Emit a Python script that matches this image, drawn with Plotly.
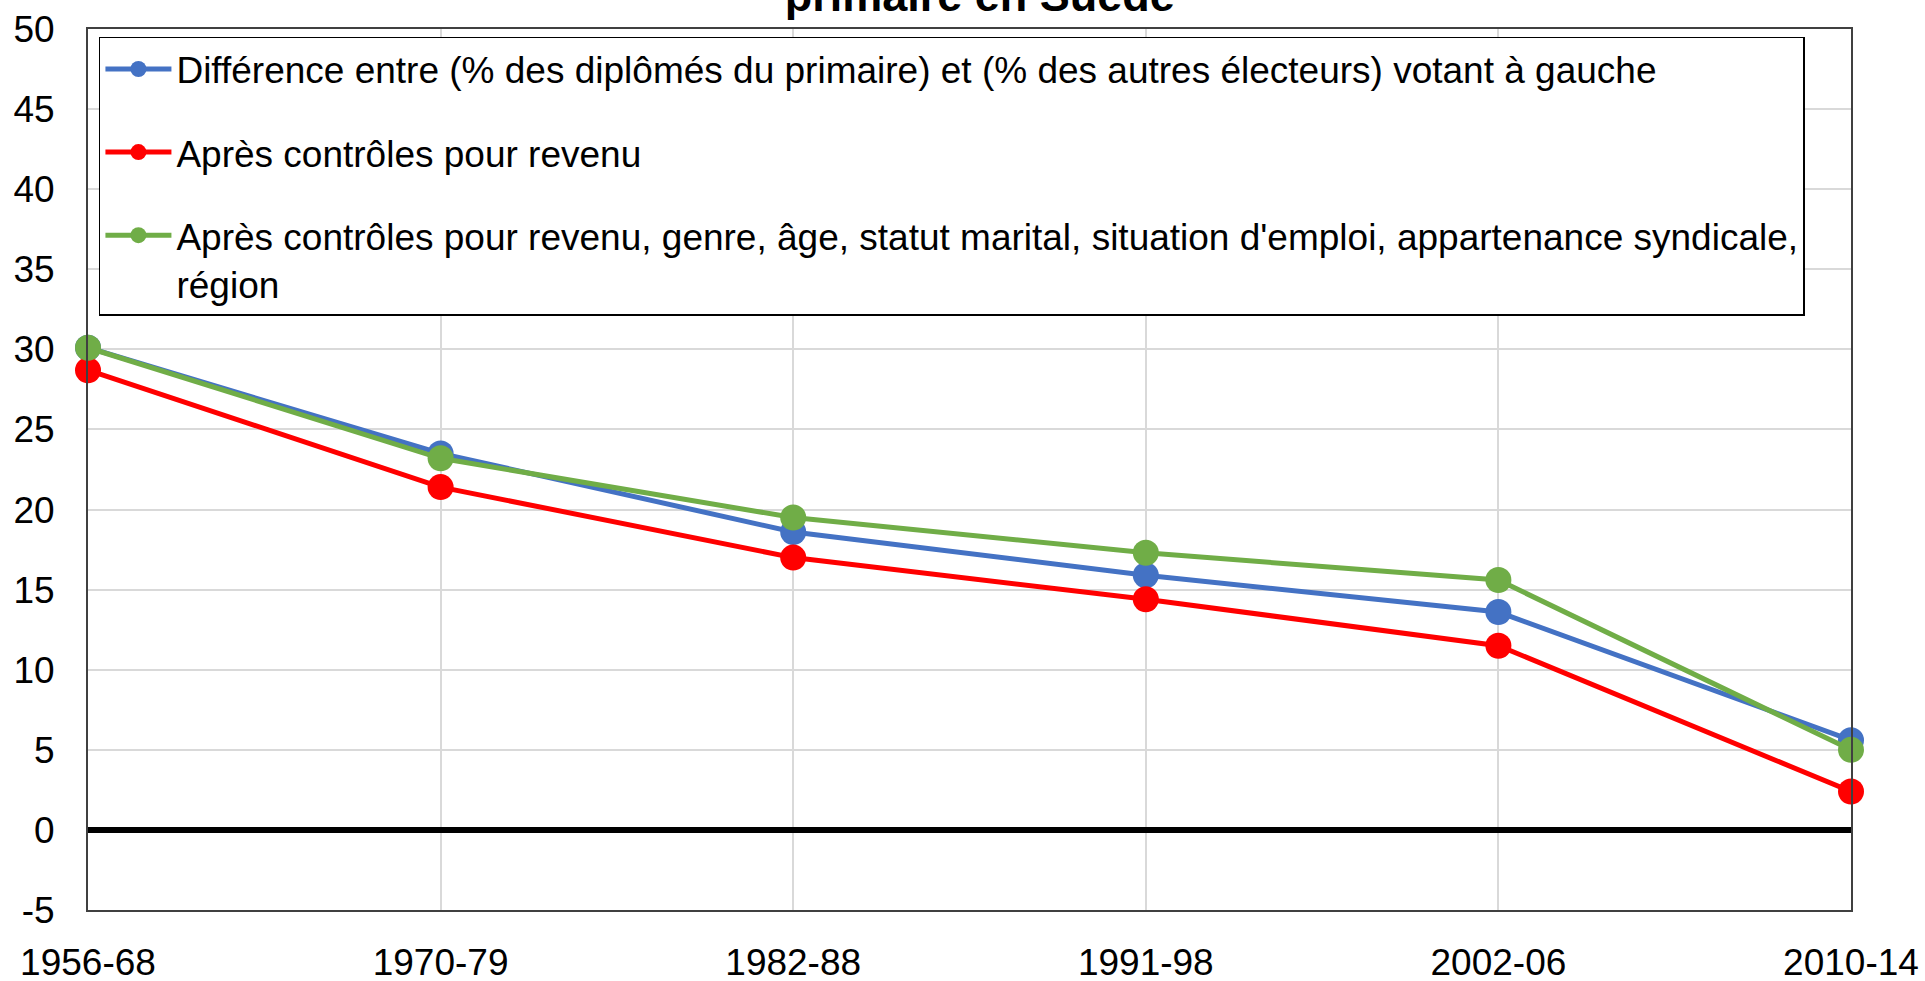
import plotly.graph_objects as go

periods = ["1956-68", "1970-79", "1982-88", "1991-98", "2002-06", "2010-14"]
diff_raw = [30.1, 23.5, 18.6, 15.9, 13.6, 5.6]
diff_income = [28.7, 21.4, 17.0, 14.4, 11.5, 2.4]
diff_all = [30.1, 23.2, 19.5, 17.3, 15.6, 5.0]

y_ticks = [-5, 0, 5, 10, 15, 20, 25, 30, 35, 40, 45, 50]
y_ticklabels = ["-5", "0", "5", "10", "15", "20", "25", "30", "35", "40", "45", "50"]

names = [
    "Différence entre (% des diplômés du primaire) et (% des autres électeurs) votant à gauche",
    "Après contrôles pour revenu",
    "Après contrôles pour revenu, genre, âge, statut marital, situation d'emploi, appartenance syndicale,<br>région",
]
colors = ["#4472C4", "#FF0000", "#70AD47"]
series = [diff_raw, diff_income, diff_all]

FONT = "Liberation Sans, Arial, sans-serif"

fig = go.Figure()
for i, (nm, col, vals) in enumerate(zip(names, colors, series)):
    fig.add_trace(go.Scatter(
        x=periods, y=vals, name=nm, mode="lines+markers",
        line=dict(color=col, width=5),
        marker=dict(color=col, size=26),
        cliponaxis=False, legendgroup=f"g{i}",
    ))

fig.update_layout(
    width=1925, height=981,
    margin=dict(l=88, r=74, t=29, b=71, autoexpand=False),
    paper_bgcolor="white", plot_bgcolor="white",
    font=dict(family=FONT, size=37, color="black"),
    title=dict(text="<b>primaire en Suède</b>", x=0.509, xanchor="center",
               y=1 - 11 / 981, yanchor="bottom", yref="container",
               font=dict(size=45, family=FONT, color="black")),
    showlegend=True,
    legend=dict(x=0.0062, y=0.991, xanchor="left", yanchor="top",
                bgcolor="white", bordercolor="black", borderwidth=1.5,
                font=dict(size=37, family=FONT, color="black"),
                tracegroupgap=32, itemwidth=66, valign="top",
                traceorder="grouped"),
)
fig.update_xaxes(
    type="category", range=[0, 5], automargin=False,
    showgrid=True, gridcolor="#d9d9d9", gridwidth=1.5,
    showline=True, linecolor="#404040", linewidth=2, mirror=True,
    ticks="", tickfont=dict(size=37), ticklabelstandoff=19,
)
fig.update_yaxes(
    range=[-5, 50], tickvals=y_ticks, ticktext=y_ticklabels, automargin=False,
    showgrid=True, gridcolor="#d9d9d9", gridwidth=1.5,
    showline=True, linecolor="#404040", linewidth=2, mirror=True,
    zeroline=True, zerolinecolor="black", zerolinewidth=6,
    ticks="", tickfont=dict(size=37), ticklabelstandoff=24,
)

fig.write_html("out.html", config={"displayModeBar": False},
               post_script="document.body.style.margin='0';")
